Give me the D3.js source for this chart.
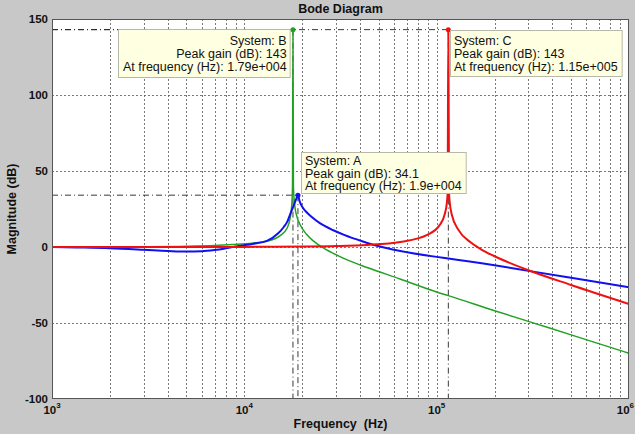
<!DOCTYPE html>
<html><head><meta charset="utf-8">
<script src="https://cdn.jsdelivr.net/npm/d3@7"></script>
<style>
html,body{margin:0;padding:0;background:#c8c8c8;}
svg{display:block;font-family:"Liberation Sans",Arial,sans-serif;}
</style></head>
<body><svg id="c" width="635" height="434"></svg>
<script>
// ---- data ----
const xTicks = [1e3, 1e4, 1e5, 1e6];
const xTickExp = ["3", "4", "5", "6"];
const yTicks = [150, 100, 50, 0, -50, -100];

const freqA = [1000,1350,2000,3000,4000,5000,6000,7000,8700,11000,13100,15000,16000,16700,17300,18000,18600,19000,19400,20000,21200,22500,24800,29000,33000,41000,49000,60000,100000,115000,200000,300000,500000,1000000];
const dbA   = [0,-0.3,-0.8,-1.8,-2.6,-3,-2.8,-2,0,2,4,9,13,16.5,21.5,27,31.5,34.1,30,26.5,22.5,19.5,15.5,11,8,3.8,0.8,-1.8,-6.5,-7.5,-12,-15.7,-20.3,-26.5];

const freqB = [1000,3000,5000,7000,8700,11000,13100,15350,16700,17300,17650,17800,17900,18000,18300,18800,19500,21000,23000,25000,29000,35000,43500,64500,100000,115000,200000,317000,500000,1000000];
const dbB   = [0,0.2,0.5,1.0,1.6,2.5,3.8,7.5,12.5,19,28,39,143,39,27,19.7,14.6,8.5,3.7,0.4,-4.2,-9,-13.5,-21,-29.6,-32,-41.9,-49.9,-57.8,-69.9];

const freqC = [1000,10000,20000,30000,43500,64500,89300,103600,110000,113000,114000,115000,116000,117000,120000,130000,150000,170000,200000,300000,500000,1000000];
const dbC   = [0,0.07,0.27,0.6,1.34,3.3,8,14.4,21.4,29.2,35.2,143,35.1,29.1,21,11.1,3.1,-1.5,-6.1,-15.3,-25,-37.5];

const tipNames = ["A", "B", "C"];
const tipPeak = [34.1, 143, 143];
const tipFreq = [19000, 17900, 115000];
const tipFreqLabel = ["1.9e+004", "1.79e+004", "1.15e+005"];

// ---- layout ----
const svg = d3.select("#c");
const L = 52, R = 629, T = 19, B = 399;
const x = d3.scaleLog().domain([1e3, 1e6]).range([L, R]);
const y = d3.scaleLinear().domain([-100, 150]).range([B, T]);

svg.append("rect").attr("width",635).attr("height",434).attr("fill","#c8c8c8");
svg.append("rect").attr("x",L).attr("y",T).attr("width",R-L).attr("height",B-T).attr("fill","#fff");

// grid
const minor = [];
for (let d = 3; d < 6; d++) for (let k = 2; k <= 10; k++) minor.push(k * Math.pow(10, d));
const grid = svg.append("g").attr("stroke","#555").attr("stroke-width",0.8).attr("stroke-dasharray","2,2");
grid.selectAll("line.v").data(minor.filter(v => v < 1e6)).join("line")
  .attr("x1", d => Math.round(x(d))+0.5).attr("x2", d => Math.round(x(d))+0.5).attr("y1",T).attr("y2",B);
grid.selectAll("line.h").data(yTicks.filter(v => v < 150 && v > -100)).join("line")
  .attr("x1",L).attr("x2",R).attr("y1", d => Math.round(y(d))+0.5).attr("y2", d => Math.round(y(d))+0.5);

// datatip reference lines (dash-dot)
const ref = svg.append("g").attr("stroke","#222").attr("stroke-width",0.9).attr("stroke-dasharray","6,3,1,3").attr("fill","none");
tipNames.forEach((n,i) => {
  ref.append("line").attr("x1",L).attr("x2",x(tipFreq[i])).attr("y1",y(tipPeak[i])).attr("y2",y(tipPeak[i]));
  ref.append("line").attr("x1",x(tipFreq[i])).attr("x2",x(tipFreq[i])).attr("y1",y(tipPeak[i])).attr("y2",B);
});

// curves
svg.append("clipPath").attr("id","pc").append("rect").attr("x",L).attr("y",T-3).attr("width",R-L).attr("height",B-T+3);
const line = d3.line().x(d => x(d[0])).y(d => y(d[1])).curve(d3.curveMonotoneX);
const series = [
  {f: freqB, v: dbB, color: "#22a022", w: 1.5},
  {f: freqA, v: dbA, color: "#1010f0", w: 2},
  {f: freqC, v: dbC, color: "#f01010", w: 2}
];
const cg = svg.append("g").attr("clip-path","url(#pc)");
series.forEach(s => {
  cg.append("path").datum(s.f.map((f,i) => [f, s.v[i]]))
    .attr("d", line).attr("fill","none").attr("stroke", s.color).attr("stroke-width", s.w).attr("stroke-linejoin","round");
});

// markers
const mColors = ["#1010f0", "#22a022", "#f01010"];
tipNames.forEach((n,i) => {
  svg.append("circle").attr("cx", x(tipFreq[i])).attr("cy", y(tipPeak[i])).attr("r", 2.5).attr("fill", mColors[i]);
});

// axes box
svg.append("rect").attr("x",L+0.5).attr("y",T+0.5).attr("width",R-L-1).attr("height",B-T-1)
  .attr("fill","none").attr("stroke","#555").attr("stroke-width",1);

// datatip boxes
const tipCfg = [
  {anchor:"start", bx:301, by:152, fs:12.5, lh:12.8, first:12.8, bh:41},
  {anchor:"end",   bx:118, by:29,  fs:12.5, lh:13, first:16, bh:48},
  {anchor:"start", bx:450, by:30,  fs:12.5, lh:13, first:15, bh:46}
];
tipNames.forEach((n,i) => {
  const c = tipCfg[i];
  const g = svg.append("g");
  const rect = g.append("rect").attr("fill","#ffffe1").attr("stroke","#b8b8a8").attr("stroke-width",1);
  const lines = ["System: " + n, "Peak gain (dB): " + tipPeak[i], "At frequency (Hz): " + tipFreqLabel[i]];
  const texts = lines.map((t,j) => g.append("text").attr("font-size", c.fs).attr("fill","#111").text(t));
  const wMax = d3.max(texts, t => t.node().getComputedTextLength());
  const pad = 3;
  const bw = wMax + 2*pad + 2;
  rect.attr("x", c.bx+0.5).attr("y", c.by+0.5).attr("width", bw).attr("height", c.bh);
  texts.forEach((t,j) => {
    t.attr("y", c.by + c.first + c.lh*j)
     .attr("x", c.anchor === "end" ? c.bx + bw - pad : c.bx + pad + 1)
     .attr("text-anchor", c.anchor);
  });
});

// tick labels
svg.selectAll("text.yt").data(yTicks).join("text").attr("class","yt")
  .attr("x", 48).attr("y", d => y(d)).attr("dy","0.35em").attr("text-anchor","end")
  .attr("font-size", 11.5).attr("font-weight","bold").attr("fill","#111").text(d => d);
const xt = svg.selectAll("text.xt").data(xTicks).join("text").attr("class","xt")
  .attr("x", (d,i) => i === xTicks.length-1 ? 634 : x(d)).attr("y", 414)
  .attr("text-anchor", (d,i) => i === xTicks.length-1 ? "end" : "middle")
  .attr("font-weight","bold").attr("fill","#111");
xt.append("tspan").attr("font-size", 11.5).text("10");
xt.append("tspan").attr("font-size", 8).attr("dy", -6).text((d,i) => xTickExp[i]);

// titles
svg.append("text").attr("x",(L+R)/2).attr("y",13).attr("text-anchor","middle")
  .attr("font-size",12.5).attr("font-weight","bold").attr("fill","#111").text("Bode Diagram");
svg.append("text").attr("x",(L+R)/2).attr("y",428).attr("text-anchor","middle").style("white-space","pre")
  .attr("font-size",12.5).attr("font-weight","bold").attr("fill","#111").text("Frequency  (Hz)");
svg.append("text").attr("transform",`translate(16,${(T+B)/2}) rotate(-90)`).attr("text-anchor","middle")
  .attr("font-size",12.5).attr("font-weight","bold").attr("fill","#111").text("Magnitude (dB)");
</script>
</body></html>
